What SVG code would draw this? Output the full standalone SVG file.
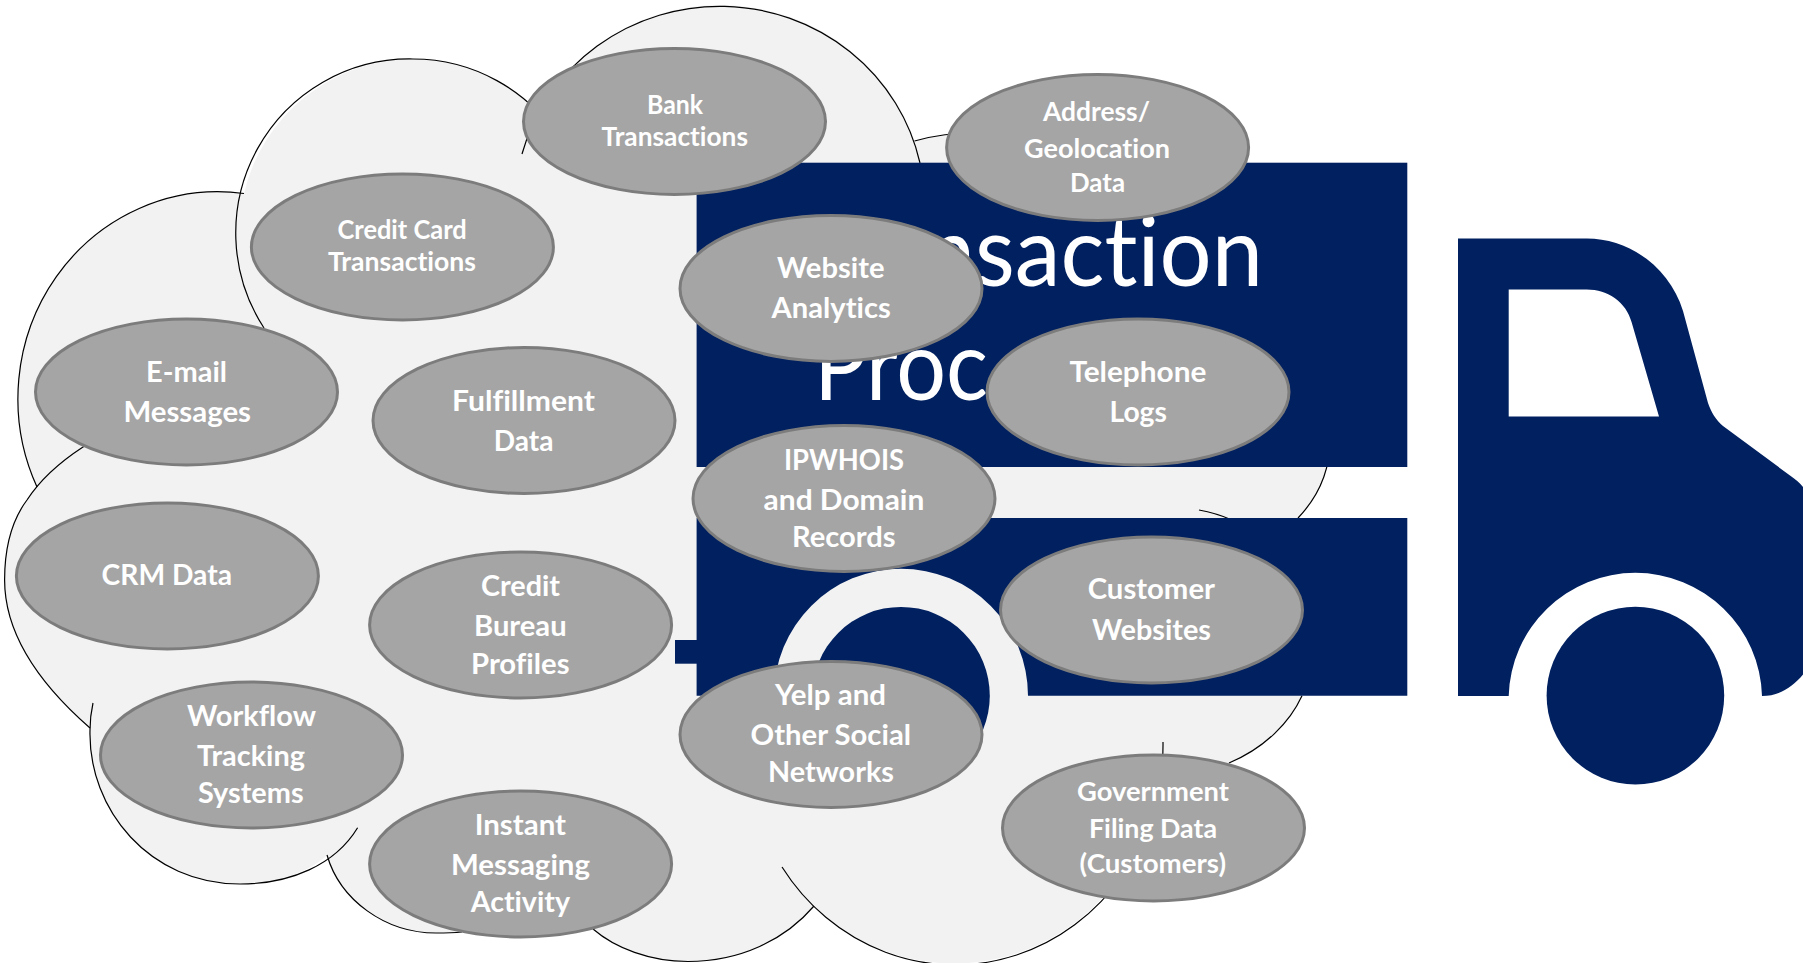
<svg xmlns="http://www.w3.org/2000/svg" width="1803" height="963" viewBox="0 0 1803 963">
<style>
.cloud{fill:#f2f2f2;stroke:none}
.arc{fill:none;stroke:#000;stroke-width:1.2}
.navy{fill:#002060}
.big{font-family:Lato,"Open Sans","Liberation Sans",sans-serif;font-size:96px;fill:#fff;font-variant-ligatures:none}
.oval{fill:#a5a5a5;stroke:#7c7c7c;stroke-width:3}
.t{font-family:Lato,"Liberation Sans",sans-serif;font-weight:700;font-size:28px;fill:#fff;font-variant-ligatures:none;transform:translateY(-1px)}
.s{font-size:26px}
</style>
<rect width="1803" height="963" fill="#fff"/>
<g id="cloud">
<path class="cloud" d="M90 728C35 680 4.6 630 4.6 580C4.6 545 12 520 27 500L37 487A200 207 0 0 1 244 193.5A174 174 0 0 1 413 59A174 174 0 0 1 560 140L576 63A205 200 0 0 1 914.5 141C1020 110 1333 160 1330 440C1330 470 1318 497 1298 518C1330 600 1320 650 1302 695.7C1290 722 1265 748 1229 763L1150 830L1106 894A208 220 0 0 1 814 906C785 940 740 961.5 688 961.5C650 961.5 615 948 593 929L462 932C452 933 445 933 436 933C385 933 340 900 327 855C310 872 275 884 240 884C150 884 88 810 90 728Z"/>
<path class="arc" d="M90 728C35 680 4.6 630 4.6 580C4.6 545 12 520 27 500C40 480 60 462 83 447L110 430"/>
<path class="arc" d="M37 487A200 207 0 0 1 244 193.5"/>
<path class="arc" d="M264 328A174 174 0 0 1 413 59A174 174 0 0 1 560 140"/>
<path class="arc" d="M522 154A205 200 0 0 1 920 163"/>
<path class="arc" d="M914.5 141C1020 110 1333 160 1330 440C1330 470 1318 497 1298 518"/>
<path class="arc" d="M1199 510Q1216 513 1232 520"/>
<path class="arc" d="M1302 695.7C1290 722 1265 748 1229 763"/>
<path class="arc" d="M1163 742A208 220 0 0 1 782 867"/>
<path class="arc" d="M814 906C785 940 740 961.5 688 961.5C650 961.5 615 948 593 929"/>
<path class="arc" d="M327 855C340 900 385 933 436 933C445 933 452 933 462 932"/>
<path class="arc" d="M357.6 827.7C335 865 290 884 240 884C150 884 88 810 90 730C90 720 91 712 93 703"/>
</g>
<g id="truck">
<rect class="navy" x="696.6" y="162.7" width="710.7" height="304.3"/>
<rect class="navy" x="675" y="640" width="30" height="23.7"/>
<path class="navy" d="M696.6 518H1407.3V695.7H1028A127 127 0 0 0 774 695.7H696.6Z"/>
<circle class="navy" cx="901" cy="695.7" r="88.8"/>
<path class="navy" fill-rule="evenodd" d="M1458 238.6H1586.7C1630 238.6 1670 268 1683 311L1708 403C1711 412 1716 420 1723 426L1790 475.5C1795 479 1800 483 1803 487V674.6C1792 688 1778 696 1762 696A126.7 126.7 0 0 0 1508.7 696H1458ZM1508.7 289.6V416.6H1659L1631.7 322.5C1626 302 1608 289.6 1586.7 289.6Z"/>
<circle class="navy" cx="1635.4" cy="695.6" r="88.8"/>
<text class="big" x="801" y="286" textLength="462" lengthAdjust="spacingAndGlyphs">Transaction</text>
<text class="big" x="814" y="400" textLength="174" lengthAdjust="spacingAndGlyphs">Proc</text>
</g>
<g id="node-bank"><ellipse class="oval" cx="674.5" cy="121.5" rx="151" ry="73"/>
<text class="t s" x="647" y="115" textLength="56" lengthAdjust="spacingAndGlyphs">Bank</text>
<text class="t s" x="601.6" y="147" textLength="146.4" lengthAdjust="spacingAndGlyphs">Transactions</text></g>
<g id="node-credit-card"><ellipse class="oval" cx="402.4" cy="247" rx="151" ry="73"/>
<text class="t s" x="337.5" y="240" textLength="129.2" lengthAdjust="spacingAndGlyphs">Credit Card</text>
<text class="t s" x="328" y="272" textLength="148" lengthAdjust="spacingAndGlyphs">Transactions</text></g>
<g id="node-email"><ellipse class="oval" cx="186.5" cy="392" rx="151" ry="73"/>
<text class="t" x="146" y="382.7" textLength="81" lengthAdjust="spacingAndGlyphs">E-mail</text>
<text class="t" x="123.4" y="423" textLength="127.6" lengthAdjust="spacingAndGlyphs">Messages</text></g>
<g id="node-fulfillment"><ellipse class="oval" cx="524" cy="420.5" rx="151" ry="73"/>
<text class="t" x="452" y="412" textLength="143" lengthAdjust="spacingAndGlyphs">Fulfillment</text>
<text class="t" x="493.7" y="451.7" textLength="59.7" lengthAdjust="spacingAndGlyphs">Data</text></g>
<g id="node-website"><ellipse class="oval" cx="831" cy="288.4" rx="151" ry="73"/>
<text class="t" x="777" y="279" textLength="107.5" lengthAdjust="spacingAndGlyphs">Website</text>
<text class="t" x="771.6" y="319" textLength="119.2" lengthAdjust="spacingAndGlyphs">Analytics</text></g>
<g id="node-address"><ellipse class="oval" cx="1097.6" cy="147.5" rx="151" ry="73"/>
<text class="t s" x="1043" y="122" textLength="107" lengthAdjust="spacingAndGlyphs">Address/</text>
<text class="t s" x="1024" y="158.7" textLength="146" lengthAdjust="spacingAndGlyphs">Geolocation</text>
<text class="t s" x="1070" y="192.7" textLength="55" lengthAdjust="spacingAndGlyphs">Data</text></g>
<g id="node-telephone"><ellipse class="oval" cx="1138" cy="392" rx="151" ry="73"/>
<text class="t" x="1069.4" y="382.7" textLength="137" lengthAdjust="spacingAndGlyphs">Telephone</text>
<text class="t" x="1109.5" y="422.7" textLength="57.5" lengthAdjust="spacingAndGlyphs">Logs</text></g>
<g id="node-ipwhois"><ellipse class="oval" cx="844" cy="498.5" rx="151" ry="73"/>
<text class="t" x="784" y="470.7" textLength="120" lengthAdjust="spacingAndGlyphs">IPWHOIS</text>
<text class="t" x="763.6" y="511" textLength="160.7" lengthAdjust="spacingAndGlyphs">and Domain</text>
<text class="t" x="792" y="548" textLength="103.7" lengthAdjust="spacingAndGlyphs">Records</text></g>
<g id="node-customer"><ellipse class="oval" cx="1151.5" cy="610" rx="151" ry="73"/>
<text class="t" x="1087.7" y="600" textLength="127.3" lengthAdjust="spacingAndGlyphs">Customer</text>
<text class="t" x="1092" y="640.7" textLength="119" lengthAdjust="spacingAndGlyphs">Websites</text></g>
<g id="node-yelp"><ellipse class="oval" cx="831" cy="734.5" rx="151" ry="73"/>
<text class="t" x="775" y="705.7" textLength="111" lengthAdjust="spacingAndGlyphs">Yelp and</text>
<text class="t" x="750.6" y="745.7" textLength="160.4" lengthAdjust="spacingAndGlyphs">Other Social</text>
<text class="t" x="768" y="783" textLength="126" lengthAdjust="spacingAndGlyphs">Networks</text></g>
<g id="node-government"><ellipse class="oval" cx="1153.5" cy="828" rx="151" ry="73"/>
<text class="t s" x="1077" y="801.7" textLength="152" lengthAdjust="spacingAndGlyphs">Government</text>
<text class="t s" x="1089" y="838.7" textLength="128" lengthAdjust="spacingAndGlyphs">Filing Data</text>
<text class="t s" x="1079.6" y="874" textLength="146.4" lengthAdjust="spacingAndGlyphs">(Customers)</text></g>
<g id="node-crm"><ellipse class="oval" cx="167.4" cy="576" rx="151" ry="73"/>
<text class="t" x="101.6" y="586" textLength="130.4" lengthAdjust="spacingAndGlyphs">CRM Data</text></g>
<g id="node-credit-bureau"><ellipse class="oval" cx="520.6" cy="625" rx="151" ry="73"/>
<text class="t" x="481" y="597" textLength="79" lengthAdjust="spacingAndGlyphs">Credit</text>
<text class="t" x="474" y="636.7" textLength="92.6" lengthAdjust="spacingAndGlyphs">Bureau</text>
<text class="t" x="471" y="674.7" textLength="98.5" lengthAdjust="spacingAndGlyphs">Profiles</text></g>
<g id="node-workflow"><ellipse class="oval" cx="251.5" cy="755" rx="151" ry="73"/>
<text class="t" x="187" y="726.7" textLength="129" lengthAdjust="spacingAndGlyphs">Workflow</text>
<text class="t" x="197" y="766.7" textLength="108" lengthAdjust="spacingAndGlyphs">Tracking</text>
<text class="t" x="198" y="804" textLength="105.7" lengthAdjust="spacingAndGlyphs">Systems</text></g>
<g id="node-instant"><ellipse class="oval" cx="520.6" cy="864" rx="151" ry="73"/>
<text class="t" x="474.7" y="836" textLength="91.3" lengthAdjust="spacingAndGlyphs">Instant</text>
<text class="t" x="451" y="876" textLength="139" lengthAdjust="spacingAndGlyphs">Messaging</text>
<text class="t" x="470.7" y="912.7" textLength="99.3" lengthAdjust="spacingAndGlyphs">Activity</text></g>
</svg>
